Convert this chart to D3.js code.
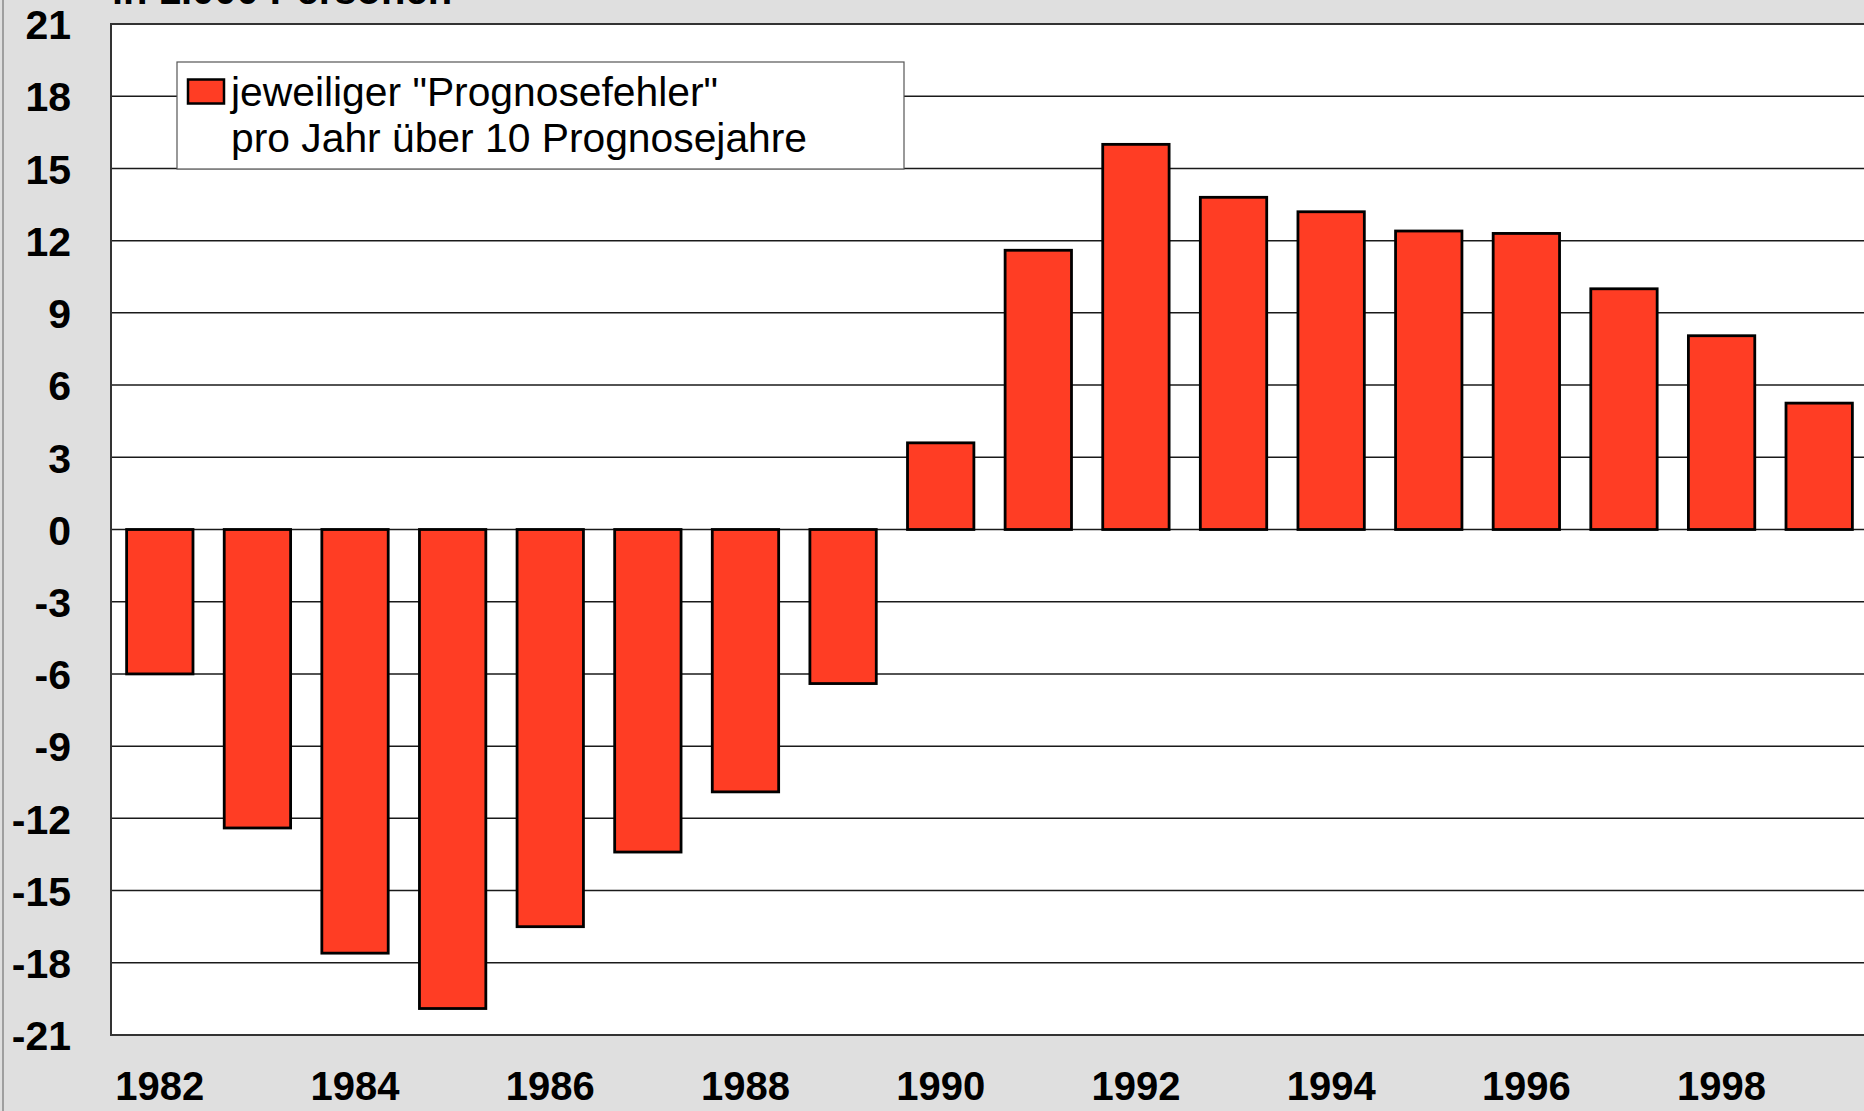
<!DOCTYPE html>
<html>
<head>
<meta charset="utf-8">
<script src="https://cdn.jsdelivr.net/npm/d3@7"></script>
<style>
  html, body { margin: 0; padding: 0; background: #dfdfdf; overflow: hidden; }
  svg { display: block; }
  text { font-family: Arial, "Liberation Sans", sans-serif; }
</style>
</head>
<body>
<script>
const years = ["1982","1983","1984","1985","1986","1987","1988","1989","1990",
               "1991","1992","1993","1994","1995","1996","1997","1998","1999"];
const values = [-6.0, -12.4, -17.6, -19.9, -16.5, -13.4, -10.9, -6.4, 3.6,
                11.6, 16.0, 13.8, 13.2, 12.4, 12.3, 10.0, 8.05, 5.25];
const yTicks = [-21, -18, -15, -12, -9, -6, -3, 0, 3, 6, 9, 12, 15, 18, 21];
const xTickLabels = ["1982","1984","1986","1988","1990","1992","1994","1996","1998"];
const titleText = "in 1.000 Personen";
const legendLines = ["jeweiliger \"Prognosefehler\"", "pro Jahr über 10 Prognosejahre"];

const W = 1864, H = 1111;
const plot = { left: 111, top: 24, right: 1868, bottom: 1035 };

const svg = d3.select("body").append("svg").attr("width", W).attr("height", H);

svg.append("rect").attr("width", W).attr("height", H).attr("fill", "#dfdfdf");
svg.append("line").attr("x1", 3).attr("x2", 3).attr("y1", 0).attr("y2", H)
   .attr("stroke", "#8a8a8a").attr("stroke-width", 1.5);

const x = d3.scaleBand().domain(years).range([plot.left, plot.right])
  .paddingInner(0.32).paddingOuter(0.16);
const y = d3.scaleLinear().domain([-21, 21]).range([plot.bottom, plot.top]);

// plot background
svg.append("rect").attr("x", plot.left).attr("y", plot.top)
  .attr("width", plot.right - plot.left).attr("height", plot.bottom - plot.top)
  .attr("fill", "#ffffff");

// gridlines
svg.append("g").selectAll("line").data(yTicks).join("line")
  .attr("x1", plot.left).attr("x2", plot.right)
  .attr("y1", d => y(d)).attr("y2", d => y(d))
  .attr("stroke", "#1a1a1a").attr("stroke-width", 1.5);

// plot border
svg.append("rect").attr("x", plot.left).attr("y", plot.top)
  .attr("width", plot.right - plot.left).attr("height", plot.bottom - plot.top)
  .attr("fill", "none").attr("stroke", "#333").attr("stroke-width", 2);

// bars
svg.append("g").selectAll("rect").data(years.map((yr, i) => ({ yr, v: values[i] }))).join("rect")
  .attr("x", d => x(d.yr))
  .attr("width", x.bandwidth())
  .attr("y", d => Math.min(y(0), y(d.v)))
  .attr("height", d => Math.abs(y(d.v) - y(0)))
  .attr("fill", "#ff3d24").attr("stroke", "#000").attr("stroke-width", 2.8);

// y axis labels
const yAxis = d3.axisLeft(y).tickValues(yTicks).tickSize(0).tickPadding(0).tickFormat(d => String(d));
const gy = svg.append("g").attr("transform", "translate(71,0)").call(yAxis);
gy.select(".domain").remove();
gy.selectAll("text").attr("font-size", 41).attr("font-weight", "bold")
  .attr("fill", "#000").attr("font-family", "Arial, 'Liberation Sans', sans-serif")
  .attr("x", 0).attr("dy", "0.36em").attr("text-anchor", "end");

// x axis labels
const xAxis = d3.axisBottom(x).tickValues(xTickLabels).tickSize(0).tickPadding(0);
const gx = svg.append("g").attr("transform", "translate(0,1100)").call(xAxis);
gx.select(".domain").remove();
gx.selectAll("text").attr("font-size", 40).attr("font-weight", "bold")
  .attr("fill", "#000").attr("font-family", "Arial, 'Liberation Sans', sans-serif")
  .attr("y", 0).attr("dy", 0);

// title (cut off at top, as in the reference)
svg.append("text").attr("x", 112).attr("y", 4).text(titleText)
  .attr("font-size", 40).attr("font-weight", "bold").attr("fill", "#000");

// legend
const lg = svg.append("g");
lg.append("rect").attr("x", 177).attr("y", 62).attr("width", 727).attr("height", 107)
  .attr("fill", "#fff").attr("stroke", "#555").attr("stroke-width", 1.2);
lg.append("rect").attr("x", 188).attr("y", 79.5).attr("width", 36).attr("height", 24)
  .attr("fill", "#ff3d24").attr("stroke", "#000").attr("stroke-width", 2.5);
lg.selectAll("text.l").data(legendLines).join("text").attr("class", "l")
  .attr("x", 231).attr("y", (d, i) => 106 + i * 46)
  .attr("font-size", 40.8).attr("fill", "#000").text(d => d);
</script>
</body>
</html>
